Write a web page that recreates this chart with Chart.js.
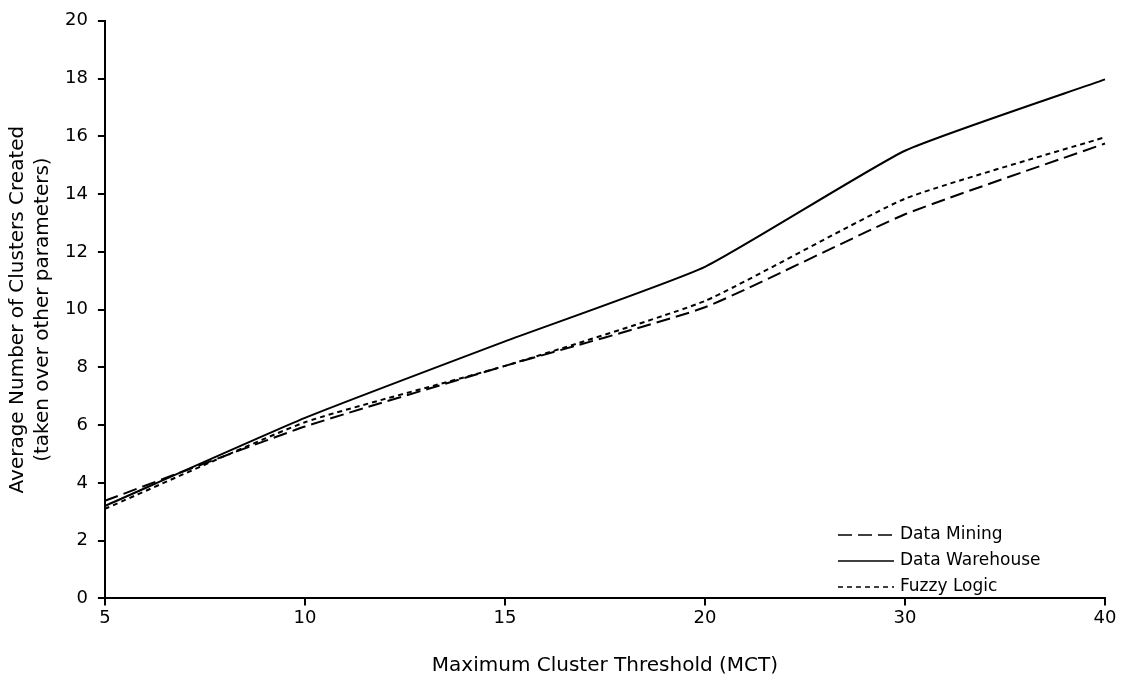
<!DOCTYPE html>
<html>
<head>
<meta charset="utf-8">
<script src="https://cdn.jsdelivr.net/npm/chart.js@4"></script>
<style>
  html, body { margin: 0; padding: 0; background: #fff; }
  #wrap { width: 1125px; height: 682px; }
</style>
</head>
<body>
<div id="wrap"><canvas id="chart"></canvas></div>
<script>
// chart data
const thresholds = ['5', '10', '15', '20', '30', '40'];
const dataMining = [3.38, 5.95, 8.05, 10.08, 13.3, 15.75];
const dataWarehouse = [3.2, 6.25, 8.9, 11.48, 15.5, 17.97];
const fuzzyLogic = [3.1, 6.1, 8.05, 10.3, 13.84, 15.97];
const yTicks = [0, 2, 4, 6, 8, 10, 12, 14, 16, 18, 20];

const FONT = '"DejaVu Sans", Verdana, sans-serif';

// draws the legend inside the plot, lower right, with line samples
const lineLegend = {
    id: 'lineLegend',
    afterDraw(chart) {
        const ctx = chart.ctx;
        const x0 = 838, x1 = 894, tx = 900;
        let y = 535;
        ctx.save();
        ctx.font = '17px ' + FONT;
        ctx.textBaseline = 'middle';
        chart.data.datasets.forEach(ds => {
            ctx.strokeStyle = '#000';
            ctx.lineWidth = 1.5;
            ctx.setLineDash(ds.borderDash || []);
            ctx.beginPath();
            ctx.moveTo(x0, y);
            ctx.lineTo(x1, y);
            ctx.stroke();
            ctx.setLineDash([]);
            ctx.fillStyle = '#000';
            ctx.fillText(ds.label, tx, y);
            y += 26;
        });
        ctx.restore();
    }
};

const ctx = document.getElementById('chart').getContext('2d');
new Chart(ctx, {
    type: 'line',
    data: {
        labels: thresholds,
        datasets: [
            { label: 'Data Mining', data: dataMining, borderDash: [14, 6] },
            { label: 'Data Warehouse', data: dataWarehouse, borderDash: [] },
            { label: 'Fuzzy Logic', data: fuzzyLogic, borderDash: [5, 4] }
        ].map(d => Object.assign(d, {
            borderColor: '#000',
            borderWidth: 2,
            pointRadius: 0,
            fill: false,
            tension: 0.15
        }))
    },
    options: {
        responsive: true,
        maintainAspectRatio: false,
        animation: false,
        layout: { padding: { top: 0, right: 20, left: 5, bottom: 4 } },
        plugins: {
            legend: { display: false },
            tooltip: { enabled: false }
        },
        scales: {
            x: {
                offset: false,
                grid: { drawOnChartArea: false, color: '#000', lineWidth: 2, tickLength: 7 },
                border: { color: '#000', width: 2 },
                ticks: { color: '#000', font: { family: FONT, size: 18 }, padding: 2, maxRotation: 0 },
                title: {
                    display: true,
                    text: 'Maximum Cluster Threshold (MCT)',
                    color: '#000',
                    font: { family: FONT, size: 20 },
                    padding: { top: 23, bottom: 0 }
                }
            },
            y: {
                min: 0,
                max: 20,
                afterBuildTicks: axis => { axis.ticks = yTicks.map(v => ({ value: v })); },
                grid: { drawOnChartArea: false, color: '#000', lineWidth: 2, tickLength: 7 },
                border: { color: '#000', width: 2 },
                ticks: { color: '#000', font: { family: FONT, size: 18 }, padding: 10 },
                title: {
                    display: true,
                    text: ['Average Number of Clusters Created', '(taken over other parameters)'],
                    color: '#000',
                    font: { family: FONT, size: 20, lineHeight: 1.25 },
                    padding: { top: 0, bottom: 0 }
                }
            }
        }
    },
    plugins: [lineLegend]
});
</script>
</body>
</html>
